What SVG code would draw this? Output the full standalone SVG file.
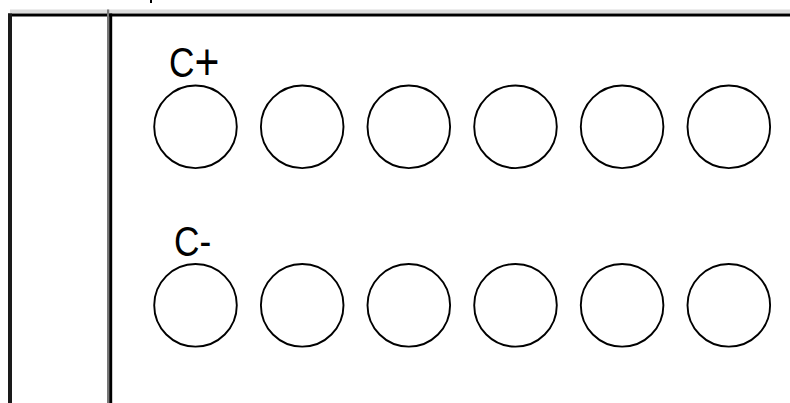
<svg xmlns="http://www.w3.org/2000/svg" width="790" height="403" viewBox="0 0 790 403">
<style>
.c{fill:none;stroke:#000;stroke-width:1.9}
.t{font-family:"Liberation Sans",Arial,sans-serif;font-size:43px;fill:#000}
</style>
<rect width="790" height="403" fill="#fff"/>
<g id="frame">
<rect x="150" y="0" width="2" height="3" fill="#000"/>
<rect x="10" y="9.5" width="780" height="3.5" fill="#dcdcdc"/>
<rect x="8" y="13.5" width="782" height="3" fill="#000"/>
<rect x="8" y="13.5" width="4" height="389.5" fill="#1a1a1a"/>
<rect x="107" y="9.5" width="2.2" height="393.5" fill="#777"/>
<rect x="109.2" y="13.5" width="3" height="389.5" fill="#000"/>
</g>
<g id="cplus">
<text class="t" transform="translate(169,77) scale(0.82,1)">C<tspan font-size="52" dy="3">+</tspan></text>
<circle class="c" cx="195.5" cy="126.8" r="41.3"/>
<circle class="c" cx="302.2" cy="126.8" r="41.3"/>
<circle class="c" cx="408.8" cy="126.8" r="41.3"/>
<circle class="c" cx="515.5" cy="126.8" r="41.3"/>
<circle class="c" cx="622.1" cy="126.8" r="41.3"/>
<circle class="c" cx="728.8" cy="126.8" r="41.3"/>
</g>
<g id="cminus">
<text class="t" transform="translate(174,256) scale(0.82,1)">C-</text>
<circle class="c" cx="195.5" cy="305.3" r="41.3"/>
<circle class="c" cx="302.2" cy="305.3" r="41.3"/>
<circle class="c" cx="408.8" cy="305.3" r="41.3"/>
<circle class="c" cx="515.5" cy="305.3" r="41.3"/>
<circle class="c" cx="622.1" cy="305.3" r="41.3"/>
<circle class="c" cx="728.8" cy="305.3" r="41.3"/>
</g>
</svg>
